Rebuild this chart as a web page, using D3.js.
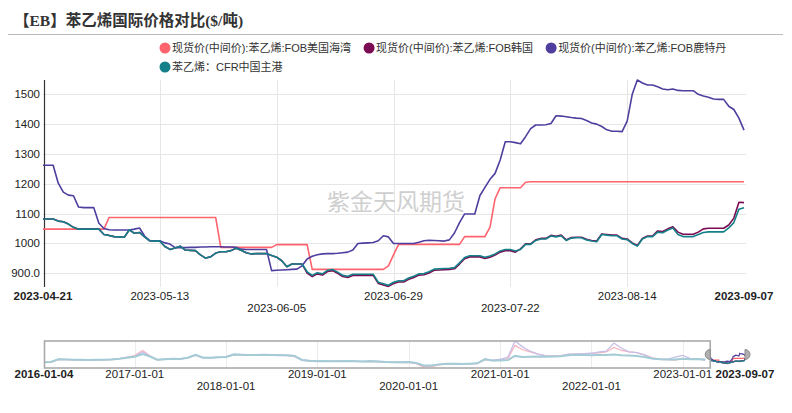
<!DOCTYPE html>
<html><head><meta charset="utf-8">
<script src="https://cdn.jsdelivr.net/npm/d3@7/dist/d3.min.js"></script>
<style>body{margin:0;background:#fff}svg{display:block}</style>
</head><body><svg id="c" width="792" height="413"></svg>
<script>
// ---------- data ----------
const title = "【EB】苯乙烯国际价格对比($/吨)";
const watermark = "紫金天风期货";
const seriesNames = ["现货价(中间价):苯乙烯:FOB美国海湾","现货价(中间价):苯乙烯:FOB韩国","现货价(中间价):苯乙烯:FOB鹿特丹","苯乙烯：CFR中国主港"];
const xTickLabels = ["2023-04-21","2023-05-13","2023-06-05","2023-06-29","2023-07-22","2023-08-14","2023-09-07"];
const xLabelEvery = 23;
const yTicks = [900,1000,1100,1200,1300,1400,1500];
const yTickLabels = ["900.0","1000","1100","1200","1300","1400","1500"];

const usGulf = [
1048,1048,1048,1048,1048,1048,1048,1048,1048,1048,
1048,1048,1048,1087,1087,1087,1087,1087,1087,1087,
1087,1087,1087,1087,1087,1087,1087,1087,1087,1087,
1087,1087,1087,1087,1087,987,987,987,987,987,
987,987,987,987,987,987,996,996,996,996,
996,996,996,913,913,913,913,913,913,913,
913,913,913,913,913,913,913,913,925,962,
997,997,997,997,997,997,997,997,997,997,
997,997,997,1023,1023,1023,1023,1023,1055,1150,
1187,1187,1187,1187,1187,1205,1207,1207,1207,1207,
1207,1207,1207,1207,1207,1207,1207,1207,1207,1207,
1207,1207,1207,1207,1207,1207,1207,1207,1207,1207,
1207,1207,1207,1207,1207,1207,1207,1207,1207,1207,
1207,1207,1207,1207,1207,1207,1207,1207,1207];
const korea = [
1082,1082,1082,1075,1073,1065,1054,1048,1048,1048,
1048,1048,1030,1027,1023,1022,1021,1046,1034,1037,
1022,1009,1008,1008,990,980,985,991,978,977,
976,962,951,955,968,972,972,976,984,977,
969,965,966,966,966,960,954,942,922,931,
931,931,901,889,898,894,906,909,900,889,
886,893,893,893,893,893,866,861,856,866,
871,871,880,886,894,895,901,910,911,912,
913,915,931,949,955,955,955,950,954,961,
971,976,976,971,982,999,999,1012,1017,1017,
1027,1024,1028,1012,1020,1021,1021,1014,1010,1008,
1032,1030,1028,1028,1017,1015,1002,993,1017,1025,
1025,1042,1040,1049,1056,1038,1031,1031,1031,1038,
1049,1051,1051,1051,1051,1062,1085,1138,1137];
const rotterdam = [
1262,1262,1262,1202,1172,1162,1160,1122,1120,1120,
1120,1068,1050,1046,1045,1045,1045,1045,1048,1052,
1025,1010,1009,1009,1002,998,986,986,986,987,
987,988,988,989,989,989,988,988,987,981,
980,980,980,980,980,909,910,911,912,913,
914,925,948,957,962,965,966,966,967,969,
971,978,1000,1001,1002,1003,1009,1026,1022,1000,
1000,1000,1000,1000,1004,1009,1011,1010,1009,1008,
1012,1035,1070,1099,1099,1099,1160,1188,1215,1235,
1280,1341,1341,1338,1334,1358,1385,1397,1397,1398,
1402,1428,1427,1425,1422,1420,1419,1412,1404,1400,
1392,1381,1376,1376,1375,1410,1500,1548,1538,1531,
1531,1525,1518,1515,1518,1513,1512,1512,1512,1500,
1494,1490,1484,1483,1483,1460,1449,1420,1380];
const cfrChina = [
1082,1082,1082,1075,1073,1065,1054,1048,1048,1048,
1048,1048,1030,1027,1023,1022,1021,1046,1034,1037,
1022,1009,1008,1008,990,980,985,991,978,977,
976,962,951,955,968,972,972,976,984,977,
969,965,966,966,966,960,954,942,922,931,
931,931,905,893,902,898,910,913,904,893,
890,897,897,897,897,897,870,865,860,870,
875,875,884,890,898,899,905,914,915,916,
917,919,935,953,959,959,959,954,958,965,
975,980,980,975,980,997,997,1010,1015,1015,
1025,1022,1026,1010,1018,1019,1019,1012,1008,1006,
1030,1028,1026,1026,1015,1013,1000,991,1015,1023,
1023,1038,1036,1045,1052,1030,1023,1023,1023,1030,
1037,1039,1039,1039,1039,1052,1070,1115,1120];

// overview (data-zoom slider), monthly from 2016-01
const overviewStart = "2016-01-04", windowStart = "2023-04-21", windowEnd = "2023-09-07";
const overviewTickLabels = ["2016-01-04","2017-01-01","2018-01-01","2019-01-01","2020-01-01","2021-01-01","2022-01-01","2023-01-01","2023-09-07"];
const overviewCfr = [
950,960,1150,1130,1120,1110,1100,1110,1120,1140,1180,1250,
1320,1500,1350,1120,1150,1180,1170,1250,1450,1260,1250,1290,
1300,1480,1460,1450,1440,1460,1450,1430,1420,1380,1100,1040,
1020,1030,1010,1020,1030,1010,1000,1020,1000,960,950,940,
960,900,720,730,800,840,840,830,850,870,1150,1060,
1070,1100,1380,1300,1330,1340,1330,1340,1360,1420,1450,1440,
1430,1460,1450,1480,1420,1400,1380,1300,1200,1150,1140,1130,
1180,1150,1170,1120];
const overviewUsGulf = [
940,950,1130,1120,1110,1100,1090,1100,1110,1130,1200,1300,
1400,1750,1400,1100,1140,1170,1160,1240,1420,1240,1240,1280,
1310,1450,1440,1420,1420,1440,1430,1420,1400,1350,1080,1030,
1010,1020,1000,1010,1020,1000,990,1000,980,940,930,920,
940,850,620,650,760,820,830,820,840,860,1120,1050,
1100,1200,2100,1800,1650,1500,1400,1380,1400,1480,1500,1520,
1550,1600,1650,1960,1750,1650,1600,1450,1250,1150,1120,1100,
1200,1140,1160,1100];
const overviewRotterdam = [
960,970,1160,1140,1130,1120,1110,1120,1130,1150,1190,1260,
1350,1650,1380,1130,1160,1190,1180,1260,1460,1270,1260,1300,
1320,1500,1480,1460,1450,1470,1460,1440,1430,1390,1110,1050,
1030,1040,1020,1030,1040,1020,1010,1030,1010,970,960,950,
970,880,700,720,790,830,840,830,850,870,1180,1080,
1150,1300,2400,2000,1700,1500,1380,1360,1380,1500,1520,1540,
1560,1650,1700,2260,1900,1650,1600,1450,1200,1150,1150,1300,
1412,1200,1180,1150];

// ---------- layout / style ----------
const colors = ["#ff646e","#7b0b52","#4f3e9e","#16808a"];
const xLabelRow = [0,0,1,0,1,0,0];
const ovLabelRow = [0,0,1,0,1,0,1,0,0];
const plot = {left:43, right:744, top:80, bottom:287};
const FONT = "'Liberation Sans','Noto Sans CJK SC',Arial,sans-serif";

const svg = d3.select("#c");
const series = [usGulf, korea, rotterdam, cfrChina];
const N = cfrChina.length;

// title
svg.append("text").attr("x",14).attr("y",26).text(title)
  .attr("font-family","'Liberation Serif','Noto Sans CJK SC',serif")
  .attr("font-weight","bold").attr("font-size",15.5).attr("fill","#333");
svg.append("line").attr("x1",8).attr("x2",783).attr("y1",34.5).attr("y2",34.5)
  .attr("stroke","#bbb").attr("stroke-width",1);

// legend
{
  let lx = 160, ly = 48;
  seriesNames.forEach((name,k)=>{
    const g = svg.append("g");
    const t = g.append("text").attr("x",lx+12).attr("y",ly).attr("dominant-baseline","central")
      .attr("font-family",FONT).attr("font-size",11).attr("fill","#333").text(name);
    const w = t.node().getComputedTextLength();
    if (lx + 12 + w > 745) {
      lx = 160; ly += 19;
      t.attr("x",lx+12).attr("y",ly);
    }
    g.append("circle").attr("cx",lx+5).attr("cy",ly).attr("r",5.5).attr("fill",colors[k]);
    lx += 12 + w + 13;
  });
}

// scales
const x = d3.scaleLinear().domain([0, N-1]).range([plot.left, plot.right]);
const y = d3.scaleLinear().domain([900,1500]).range([273.3, 94.3]);

// grid
svg.append("g").selectAll("line").data(yTicks).join("line")
  .attr("x1",plot.left).attr("x2",plot.right+2).attr("y1",d=>Math.round(y(d))+0.5).attr("y2",d=>Math.round(y(d))+0.5)
  .attr("stroke","#e6e6e6");
const xTickIdx = xTickLabels.map((d,i)=> i===xTickLabels.length-1 ? N-1 : i*xLabelEvery);
svg.append("g").selectAll("line").data(xTickIdx.slice(1,-1)).join("line")
  .attr("x1",d=>Math.round(x(d))+0.5).attr("x2",d=>Math.round(x(d))+0.5)
  .attr("y1",plot.top).attr("y2",plot.bottom).attr("stroke","#e6e6e6");

// watermark
svg.append("text").attr("x",396).attr("y",200).attr("text-anchor","middle").attr("dominant-baseline","central")
  .attr("font-family","'Noto Sans CJK SC',sans-serif").attr("font-size",23).attr("fill","#cfcfcf").text(watermark);

// y axis
svg.append("line").attr("x1",44.5).attr("x2",44.5).attr("y1",plot.top).attr("y2",plot.bottom)
  .attr("stroke","#333").attr("stroke-width",1.2);
svg.append("g").selectAll("text").data(yTicks).join("text")
  .attr("x",40).attr("y",d=>y(d)).attr("text-anchor","end").attr("dominant-baseline","central")
  .attr("font-family",FONT).attr("font-size",11.5).attr("fill","#222").text((d,i)=>yTickLabels[i]);

// x labels
svg.append("g").selectAll("text").data(xTickLabels).join("text")
  .attr("x",(d,i)=>x(xTickIdx[i])).attr("y",(d,i)=>xLabelRow[i]? 312 : 300)
  .attr("text-anchor","middle").attr("font-family",FONT).attr("font-size",11.5)
  .attr("font-weight",(d,i)=> (i===0||i===xTickLabels.length-1)?"bold":"normal")
  .attr("fill","#222").text(d=>d);

// lines
const line = d3.line().x((d,i)=>x(i)).y(d=>y(d));
series.forEach((s,k)=>{
  svg.append("path").attr("d",line(s)).attr("fill","none").attr("stroke",colors[k])
    .attr("stroke-width",1.6).attr("stroke-linejoin","round");
});

// ---------- slider ----------
const parse = d3.timeParse("%Y-%m-%d");
const sx = d3.scaleTime().domain([parse(overviewStart), parse(windowEnd)]).range([44, 745]);
const ovDates = overviewCfr.map((d,i)=> i===0 ? parse(overviewStart) : d3.timeMonth.offset(new Date(2016,0,1), i));
const allOv = [...overviewCfr, ...overviewUsGulf, ...overviewRotterdam, ...usGulf, ...korea, ...rotterdam, ...cfrChina];
const sy = d3.scaleLinear().domain(d3.extent(allOv)).range([367, 341]);
const sTop = 341, sBot = 368;

// year gridlines
const ovTickDates = overviewTickLabels.map(parse);
svg.append("g").selectAll("line").data(ovTickDates.slice(1,-1)).join("line")
  .attr("x1",d=>Math.round(sx(d))+0.5).attr("x2",d=>Math.round(sx(d))+0.5)
  .attr("y1",sTop).attr("y2",sBot).attr("stroke","#ececec");

const ovLine = d3.line().x((d,i)=>sx(ovDates[i])).y(d=>sy(d)).curve(d3.curveLinear);
[[overviewUsGulf,"#f6b4bf",1.3],[overviewRotterdam,"#c6bfe8",1.3],[overviewCfr,"#a3ccd6",2]].forEach(([s,c,w])=>{
  svg.append("path").attr("d",ovLine(s)).attr("fill","none").attr("stroke",c).attr("stroke-width",w);
});
const wx0 = sx(parse(windowStart)), wx1 = sx(parse(windowEnd));
const wLine = d3.line().x((d,i)=> wx0 + (wx1-wx0)*i/(N-1)).y(d=>sy(d));
series.forEach((s,k)=>{
  svg.append("path").attr("d",wLine(s)).attr("fill","none").attr("stroke",colors[k]).attr("stroke-width",1.2);
});
svg.append("rect").attr("x",44.5).attr("y",sTop).attr("width",wx0-44.5).attr("height",sBot-sTop)
  .attr("fill","none").attr("stroke","#aaa").attr("stroke-width",1.6);
// handles
[[wx0,-1],[wx1,1]].forEach(([hx,dir])=>{
  const p = d3.path();
  p.moveTo(hx, 349.5);
  p.arc(hx, 354.5, 5, -Math.PI/2, Math.PI/2, dir<0);
  p.closePath();
  svg.append("path").attr("d",p.toString()).attr("fill","#b0b0b0").attr("stroke","#888").attr("stroke-width",1);
});
svg.append("g").selectAll("text").data(overviewTickLabels).join("text")
  .attr("x",(d,i)=>sx(ovTickDates[i])).attr("y",(d,i)=>ovLabelRow[i]?390:378)
  .attr("text-anchor","middle").attr("font-family",FONT).attr("font-size",11.5)
  .attr("font-weight",(d,i)=>(i===0||i===overviewTickLabels.length-1)?"bold":"normal")
  .attr("fill","#222").text(d=>d);
</script></body></html>
